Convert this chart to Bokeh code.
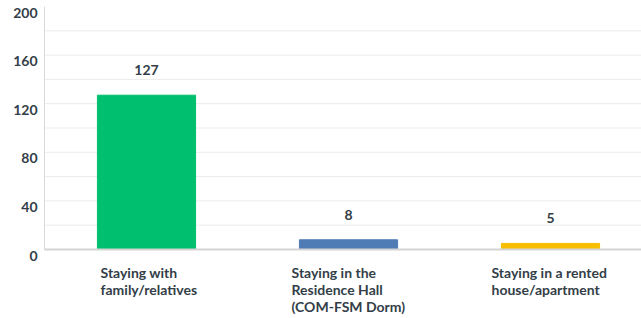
from bokeh.plotting import figure
from bokeh.models import ColumnDataSource, Range1d
from bokeh.core.properties import value
from bokeh.embed import file_html
from bokeh.resources import INLINE

# ---- data ----
categories = [
    "Staying with\nfamily/relatives",
    "Staying in the\nResidence Hall\n(COM-FSM Dorm)",
    "Staying in a rented\nhouse/apartment",
]
counts = [127, 8, 5]
bar_colors = ["#00BF6F", "#507CB6", "#F9BE00"]
y_ticks = [0, 40, 80, 120, 160, 200]
grid_ticks = [20, 40, 60, 80, 100, 120, 140, 160, 180]

# ---- style / layout ----
TEXT_COLOR = "#333E48"
FONT = value("Lato")
W, H = 641, 318
LEFT, TOP, BOTTOM = 44, 6, 69          # plot-area margins in px
X0, X1 = -0.505, 2.4505                # plot-area x extent (category units)
Y0, Y1 = 0, 200
PX_X = (W - LEFT) / (X1 - X0)
PX_Y = (H - TOP - BOTTOM) / (Y1 - Y0)
XL = X0 - LEFT / PX_X
YB = Y0 - BOTTOM / PX_Y
YT = Y1 + TOP / PX_Y
label_dx = [-46, -57, -59]   # px from category centre to label left edge
LINE_STEP = 17               # px between label lines
FIRST_LINE = 23              # px below axis of first label line centre

xs = list(range(len(categories)))
src = ColumnDataSource(dict(
    x=xs, top=counts, color=bar_colors,
    vlabel=[str(c) for c in counts],
))

lx, ly, ltxt = [], [], []
for i, cat in enumerate(categories):
    for j, line in enumerate(cat.split("\n")):
        lx.append(i + label_dx[i] / PX_X)
        ly.append(Y0 - (FIRST_LINE + j * LINE_STEP) / PX_Y)
        ltxt.append(line)
lab_src = ColumnDataSource(dict(x=lx, y=ly, text=ltxt))

ytick_src = ColumnDataSource(dict(
    x=[X0 - 7 / PX_X] * len(y_ticks),
    y=[t - 6 / PX_Y for t in y_ticks],
    text=[str(t) for t in y_ticks]))

grid_src = ColumnDataSource(dict(
    x0=[X0] * len(grid_ticks), x1=[X1] * len(grid_ticks),
    y=grid_ticks))

p = figure(width=W, height=H,
           x_range=Range1d(XL, X1), y_range=Range1d(YB, YT),
           output_backend="svg", toolbar_location=None,
           min_border=0)
p.outline_line_color = None
p.axis.visible = False
p.grid.visible = False
p.background_fill_color = "white"
p.border_fill_color = "white"

# gridlines
p.segment(x0="x0", y0="y", x1="x1", y1="y", source=grid_src,
          line_color="#ebebeb", line_width=1)
# y axis line
p.segment(x0=[X0], y0=[Y0], x1=[X0], y1=[Y1], line_color="#d9d9d9", line_width=1)

p.vbar(x="x", top="top", bottom=0, width=0.486, color="color", source=src)

# x axis line
p.segment(x0=[X0], y0=[Y0], x1=[X1], y1=[Y0], line_color="#d4d4d4", line_width=2)

p.text(x="x", y="top", text="vlabel", source=src, y_offset=-25,
       text_align="center", text_baseline="middle",
       text_font=FONT, text_font_style="bold", text_font_size="14px",
       text_color=TEXT_COLOR)

p.text(x="x", y="y", text="text", source=lab_src,
       text_align="left", text_baseline="middle",
       text_font=FONT, text_font_style="bold", text_font_size="14px",
       text_color=TEXT_COLOR)

p.text(x="x", y="y", text="text", source=ytick_src,
       text_align="right", text_baseline="middle",
       text_font=FONT, text_font_style="bold", text_font_size="14px",
       text_color=TEXT_COLOR)

open("out.html", "w").write(file_html(p, INLINE))
